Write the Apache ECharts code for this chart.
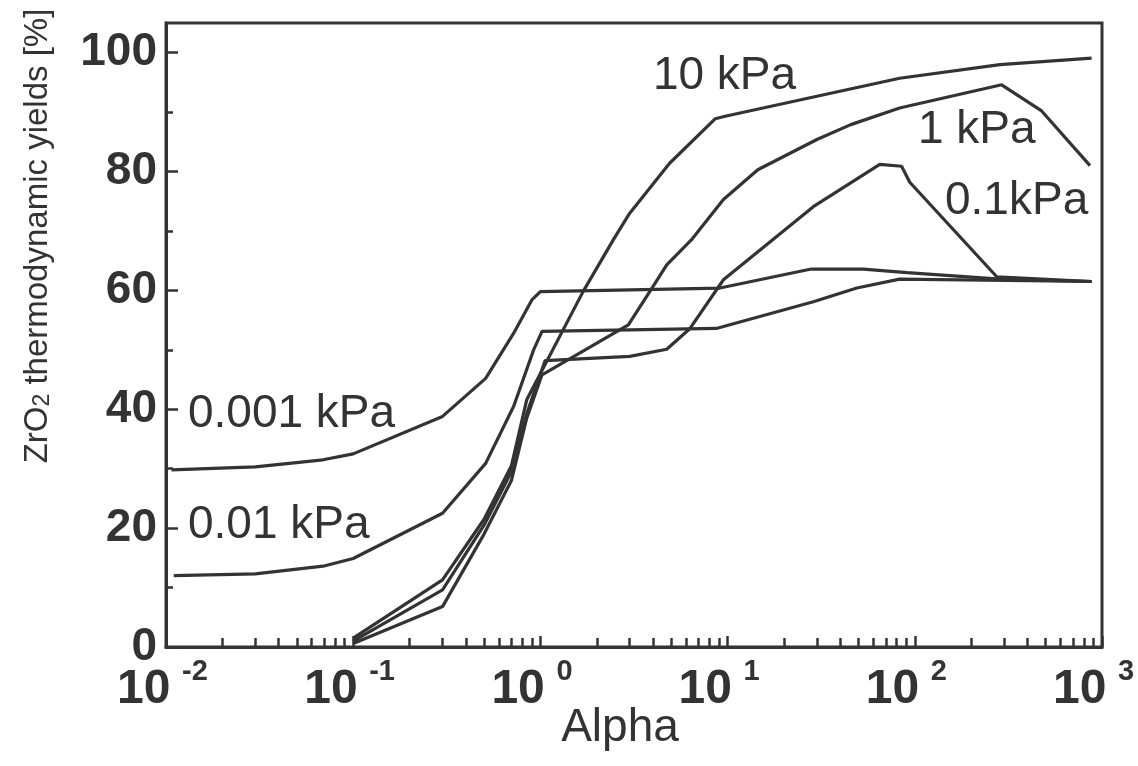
<!DOCTYPE html>
<html><head><meta charset="utf-8">
<script src="https://cdn.jsdelivr.net/npm/echarts@6/dist/echarts.min.js"></script>
<style>html,body{margin:0;padding:0;background:#fff}#c{width:1138px;height:766px}</style>
</head><body><div id="c"></div>
<script>
// ---- data (alpha, yield %) ----
const seriesNames = ['10 kPa', '1 kPa', '0.1kPa', '0.01 kPa', '0.001 kPa'];
const yield10kPa = [[0.1,1.5],[0.3,11.3],[0.5,21.5],[0.7,30.5],[0.845,41.6],[1.69,59.8],[2.45,68.5],[3.0,73],[4.9,81.4],[8.6,88.9],[9.7,89.3],[83,95.7],[285,98.0],[880,99.1]];
const yield1kPa = [[0.1,0.6],[0.3,6.8],[0.5,19],[0.7,28],[0.845,38.5],[1.02,45.8],[2.95,54.2],[4.0,60.7],[4.73,64.3],[6.4,68.5],[9.5,75.3],[14.5,80.3],[30,85.4],[45.5,87.9],[83,90.7],[291,94.6],[476,90.2],[863,81.0]];
const yield01kPa = [[0.1,1.0],[0.3,9.6],[0.5,20.5],[0.7,29.5],[0.85,39.5],[1.06,48.2],[3.0,48.9],[4.73,50.1],[6.3,53.6],[9.5,61.8],[28.7,74.1],[65,81.2],[85,80.9],[94,78.2],[274,62.3],[880,61.5]];
const yield001kPa = [[0.011,12.0],[0.03,12.3],[0.069,13.6],[0.1,14.9],[0.3,22.5],[0.51,30.9],[0.72,40.5],[0.92,50.0],[1.02,53.1],[8.7,53.6],[28.7,58.1],[49,60.4],[83,61.9],[880,61.5]];
const yield0001kPa = [[0.0107,29.8],[0.03,30.3],[0.069,31.5],[0.1,32.5],[0.3,38.8],[0.51,45.2],[0.72,52.8],[0.9,58.4],[1.0,59.8],[9.1,60.4],[28,63.6],[53,63.6],[91,63.0],[285,61.9],[880,61.5]];
const yMajorTicks = [0, 20, 40, 60, 80, 100];
const yMinorTicks = [10, 30, 50, 70, 90];

// ---- styling ----
const INK = '#333';
const FONT = "'Liberation Sans', Arial, Helvetica, sans-serif";

const labelAnchors = {
  '10 kPa': [3.99, 96.0],
  '1 kPa': [104, 87.0],
  '0.1kPa': [145, 75.0],
  '0.01 kPa': [0.0131, 20.4],
  '0.001 kPa': [0.0131, 39.2]
};
const seriesData = [yield10kPa, yield1kPa, yield01kPa, yield001kPa, yield0001kPa];

const gridBox = {left: 166, right: 36, top: 23, bottom: 119, outerBoundsMode: 'none', containLabel: false};

const chart = echarts.init(document.getElementById('c'), null, {renderer: 'canvas'});
chart.setOption({
  animation: false,
  backgroundColor: '#fff',
  grid: [
    Object.assign({show: true, borderColor: INK, borderWidth: 3, backgroundColor: 'transparent'}, gridBox),
    Object.assign({show: false}, gridBox)
  ],
  xAxis: [
    {
      type: 'log', logBase: 10, min: 0.01, max: 1000, gridIndex: 0,
      axisLine: {lineStyle: {color: INK, width: 3}},
      axisTick: {inside: true, length: 11, lineStyle: {color: INK, width: 2.5}},
      minorTick: {show: true, splitNumber: 9, length: 9, lineStyle: {color: INK, width: 2.5}},
      splitLine: {show: false},
      minorSplitLine: {show: false},
      axisLabel: {
        margin: 10,
        color: INK,
        fontFamily: FONT,
        formatter: function (v) {
          const e = Math.round(Math.log10(v));
          return '{p| }{b|10}{g| }{s|' + e + '}';
        },
        rich: {
          p: {width: 27, align: 'left', fontSize: 10, lineHeight: 10},
          b: {fontSize: 48, fontWeight: 'bold', fontFamily: FONT, color: INK, width: 54, align: 'left', lineHeight: 48, padding: [18, 0, 0, 0]},
          g: {width: 11, align: 'left', fontSize: 10, lineHeight: 10},
          s: {fontSize: 29, fontWeight: 'bold', fontFamily: FONT, color: INK, width: 60, align: 'left', verticalAlign: 'top', lineHeight: 29}
        }
      },
      name: 'Alpha', nameLocation: 'middle', nameGap: 58, nameMoveOverlap: false,
      nameTextStyle: {fontSize: 46, color: INK, fontFamily: FONT, padding: [0, 28, 0, 0]}
    },
    {
      type: 'value', min: -2, max: 3, gridIndex: 1, show: false
    }
  ],
  yAxis: [
    {
      type: 'value', min: 0, max: 105, interval: 20, gridIndex: 0,
      axisLine: {show: true, onZero: false, lineStyle: {color: INK, width: 3}},
      axisTick: {show: true, inside: true, length: 12, customValues: yMajorTicks, lineStyle: {color: INK, width: 2.5}},
      splitLine: {show: false},
      axisLabel: {customValues: yMajorTicks, margin: 9, fontSize: 46, fontWeight: 'bold', color: INK, fontFamily: FONT},
      name: 'ZrO{sub|2} thermodynamic yields [%]', nameLocation: 'middle', nameRotate: 90, nameGap: 112, nameMoveOverlap: false,
      nameTextStyle: {
        fontSize: 33, color: INK, fontFamily: FONT,
        padding: [0, 0, 0, 198],
        rich: {sub: {fontSize: 23, fontFamily: FONT, color: INK, verticalAlign: 'bottom', lineHeight: 26}}
      }
    },
    {
      type: 'value', min: 0, max: 105, gridIndex: 1,
      axisLine: {show: false, onZero: false}, splitLine: {show: false}, axisLabel: {show: false},
      axisTick: {show: true, inside: true, length: 7, customValues: yMinorTicks, lineStyle: {color: INK, width: 2.5}}
    }
  ],
  series: seriesNames.map(function (name, i) {
    return {
      name: name, type: 'line', xAxisIndex: 0, yAxisIndex: 0,
      data: seriesData[i], symbol: 'none', smooth: false,
      lineStyle: {color: INK, width: 3.2},
      markPoint: {
        silent: true, symbol: 'circle', symbolSize: 0,
        data: [{name: name, coord: labelAnchors[name]}],
        label: {show: true, position: 'right', distance: 0, formatter: '{b}', fontSize: 46, color: INK, fontFamily: FONT}
      }
    };
  })
});
</script>
</body></html>
